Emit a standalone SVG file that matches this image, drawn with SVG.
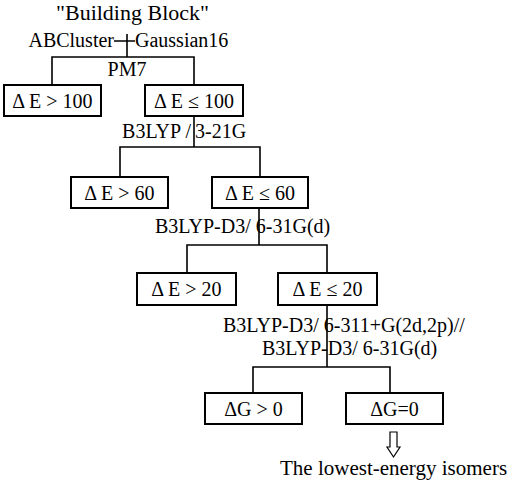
<svg xmlns="http://www.w3.org/2000/svg" width="510" height="486" viewBox="0 0 510 486">
<style>
text{font-family:"Liberation Serif","Times New Roman",serif;font-size:20px;fill:#000}
.c{text-anchor:middle}
.box{fill:#fff;stroke:#000;stroke-width:2}
.ln{fill:none;stroke:#000;stroke-width:1.6}
</style>
<rect width="510" height="486" fill="#fff"/>
<g id="connectors">
<path class="ln" d="M127,34V57M114,41H135M52,85V57H194V85"/>
<path class="ln" d="M194,116V147M120,177V147H260V177"/>
<path class="ln" d="M259,208V245M187,273V245H327V273"/>
<path class="ln" d="M327,305V367M253,393V367H390V393"/>
<path d="M390,432H397V447H400L393.5,457L387,447H390Z" fill="#fff" stroke="#000" stroke-width="1.2"/>
</g>
<g id="labels">
<text class="c" x="132.5" y="20" style="font-size:22px">"Building Block"</text>
<text x="114" y="47" text-anchor="end">ABCluster</text>
<text x="135" y="47">Gaussian16</text>
<text class="c" x="127" y="76">PM7</text>
<text x="191" y="138" text-anchor="end">B3LYP /</text>
<text x="195" y="138">3-21G</text>
<text x="155" y="233">B3LYP-D3/ 6-31G(d)</text>
<text x="223" y="332">B3LYP-D3/ 6-311+G(2d,2p)//</text>
<text x="262" y="355">B3LYP-D3/ 6-31G(d)</text>
<text x="280" y="475" style="font-size:21px">The lowest-energy isomers</text>
</g>
<g id="n1"><rect class="box" x="4" y="85" width="97" height="31"/><text class="c" x="52.5" y="108">Δ E &gt; 100</text></g>
<g id="n2"><rect class="box" x="145" y="85" width="98" height="31"/><text class="c" x="194" y="108">Δ E ≤ 100</text></g>
<g id="n3"><rect class="box" x="71" y="177" width="97" height="31"/><text class="c" x="119.5" y="200">Δ E &gt; 60</text></g>
<g id="n4"><rect class="box" x="212" y="177" width="96" height="31"/><text class="c" x="260" y="200">Δ E ≤ 60</text></g>
<g id="n5"><rect class="box" x="137" y="273" width="99" height="32"/><text class="c" x="186.5" y="296">Δ E &gt; 20</text></g>
<g id="n6"><rect class="box" x="278" y="273" width="99" height="32"/><text class="c" x="327.5" y="296">Δ E ≤ 20</text></g>
<g id="n7"><rect class="box" x="205" y="393" width="97" height="31"/><text class="c" x="253.5" y="416">ΔG &gt; 0</text></g>
<g id="n8"><rect class="box" x="346" y="393" width="97" height="31"/><text class="c" x="394.5" y="416">ΔG=0</text></g>
</svg>
